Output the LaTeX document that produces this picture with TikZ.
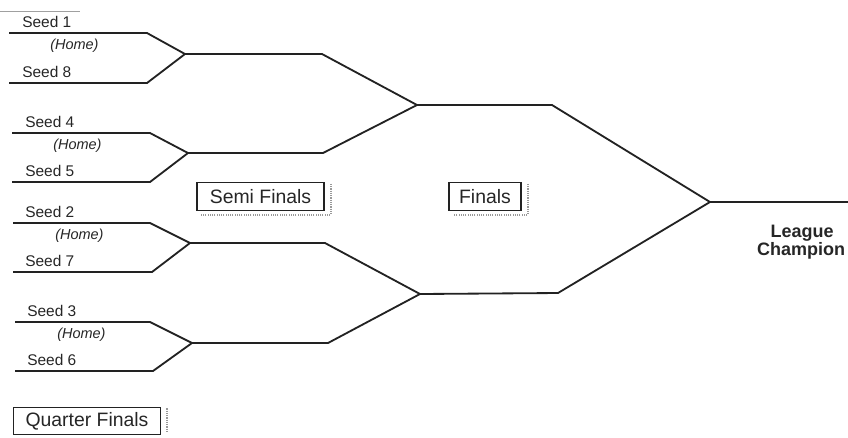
\documentclass[tikz,border=0pt]{standalone}
\usepackage{fontspec}
\setmainfont{Liberation Sans}
\usepackage{tikz}
\definecolor{brline}{HTML}{222222}
\definecolor{brtext}{HTML}{262626}
\definecolor{brfaint}{HTML}{A0A0A0}

\begin{document}
\begin{tikzpicture}[x=0.025cm, y=-0.025cm,
  bline/.style={draw=brline, line width=1.3pt, line join=miter},
  seedlbl/.style={anchor=base west, inner sep=0pt, text=brtext, font=\fontsize{11}{13}\selectfont},
  homelbl/.style={anchor=base west, inner sep=0pt, text=brtext, font=\fontsize{10.3}{12}\selectfont\itshape},
  roundbox/.style={draw=brline, line width=0.8pt, inner sep=0pt, minimum height=0.68cm, text=brtext, font=\fontsize{13.8}{16}\selectfont},
  champlbl/.style={anchor=base, inner sep=0pt, text=brtext, font=\fontsize{12.8}{15}\selectfont\bfseries},
  scrib/.style={draw=black!40, line width=1.4pt, dash pattern=on 0.8pt off 0.8pt}]
  \useasboundingbox (0,0) rectangle (848,437);

  % seed labels
  \node[seedlbl] (seed1) at (22,27) {Seed 1};
  \node[homelbl] (home18) at (50,49) {(Home)};
  \node[seedlbl] (seed8) at (22,77) {Seed 8};
  \node[seedlbl] (seed4) at (25,127) {Seed 4};
  \node[homelbl] (home45) at (53,149) {(Home)};
  \node[seedlbl] (seed5) at (25,176) {Seed 5};
  \node[seedlbl] (seed2) at (25,217) {Seed 2};
  \node[homelbl] (home27) at (55,239) {(Home)};
  \node[seedlbl] (seed7) at (25,266) {Seed 7};
  \node[seedlbl] (seed3) at (27,316) {Seed 3};
  \node[homelbl] (home36) at (57,338) {(Home)};
  \node[seedlbl] (seed6) at (27,365) {Seed 6};

  % round boxes
  \node[roundbox, minimum width=3.175cm] (semi) at (260.5,196.5) {Semi Finals};
  \node[roundbox, minimum width=1.8cm] (fin) at (485,196.5) {Finals};
  \node[roundbox, minimum width=3.675cm] (quarter) at (87,421) {Quarter Finals};
  \draw[scrib] ([shift={(0.16cm,-0.04cm)}]semi.north east) -- ([shift={(0.16cm,-0.1cm)}]semi.south east) -- ([shift={(0.12cm,-0.1cm)}]semi.south west);
  \draw[scrib] ([shift={(0.16cm,-0.04cm)}]fin.north east) -- ([shift={(0.16cm,-0.1cm)}]fin.south east) -- ([shift={(0.15cm,-0.1cm)}]fin.south west);
  \draw[scrib] ([shift={(0.14cm,-0.04cm)}]quarter.north east) -- ([shift={(0.14cm,0.05cm)}]quarter.south east);

  \node[champlbl] (league) at (802,237) {League};
  \node[champlbl] (champion) at (801,255) {Champion};

  % bracket points
  \coordinate (top) at (0,11);
  \coordinate (topr) at (80,11);
  \coordinate (l1) at (9,33);    \coordinate (r1) at (147,33);
  \coordinate (l8) at (9,83);    \coordinate (r8) at (147,83);
  \coordinate (l4) at (12,133);  \coordinate (r4) at (150,133);
  \coordinate (l5) at (12,182);  \coordinate (r5) at (150,182);
  \coordinate (l2) at (13,223);  \coordinate (r2) at (150,223);
  \coordinate (l7) at (13,272);  \coordinate (r7) at (152,272);
  \coordinate (l3) at (15,322);  \coordinate (r3) at (150,322);
  \coordinate (l6) at (15,371);  \coordinate (r6) at (153,371);
  \coordinate (m18) at (185,54);  \coordinate (k18) at (322,54);
  \coordinate (m45) at (188,153); \coordinate (k45) at (323,153);
  \coordinate (m27) at (190,243); \coordinate (k27) at (325,243);
  \coordinate (m36) at (192,343); \coordinate (k36) at (328,343);
  \coordinate (sf1) at (417,105); \coordinate (kf1) at (552,105);
  \coordinate (sf2) at (420,294); \coordinate (kf2) at (558,293);
  \coordinate (champ) at (710,202);
  \coordinate (champr) at (848,202);

  \draw[draw=brfaint, line width=0.5pt] (top) -- (topr);

  % quarter finals
  \draw[bline] (l1) -- (r1) -- (m18) -- (r8) -- (l8);
  \draw[bline] (l4) -- (r4) -- (m45) -- (r5) -- (l5);
  \draw[bline] (l2) -- (r2) -- (m27) -- (r7) -- (l7);
  \draw[bline] (l3) -- (r3) -- (m36) -- (r6) -- (l6);

  % semi finals
  \draw[bline] (m18) -- (k18) -- (sf1) -- (k45) -- (m45);
  \draw[bline] (m27) -- (k27) -- (sf2) -- (k36) -- (m36);

  % finals
  \draw[bline] (sf1) -- (kf1) -- (champ) -- (kf2) -- (sf2);
  \draw[bline] (champ) -- (champr);
\end{tikzpicture}
\end{document}
